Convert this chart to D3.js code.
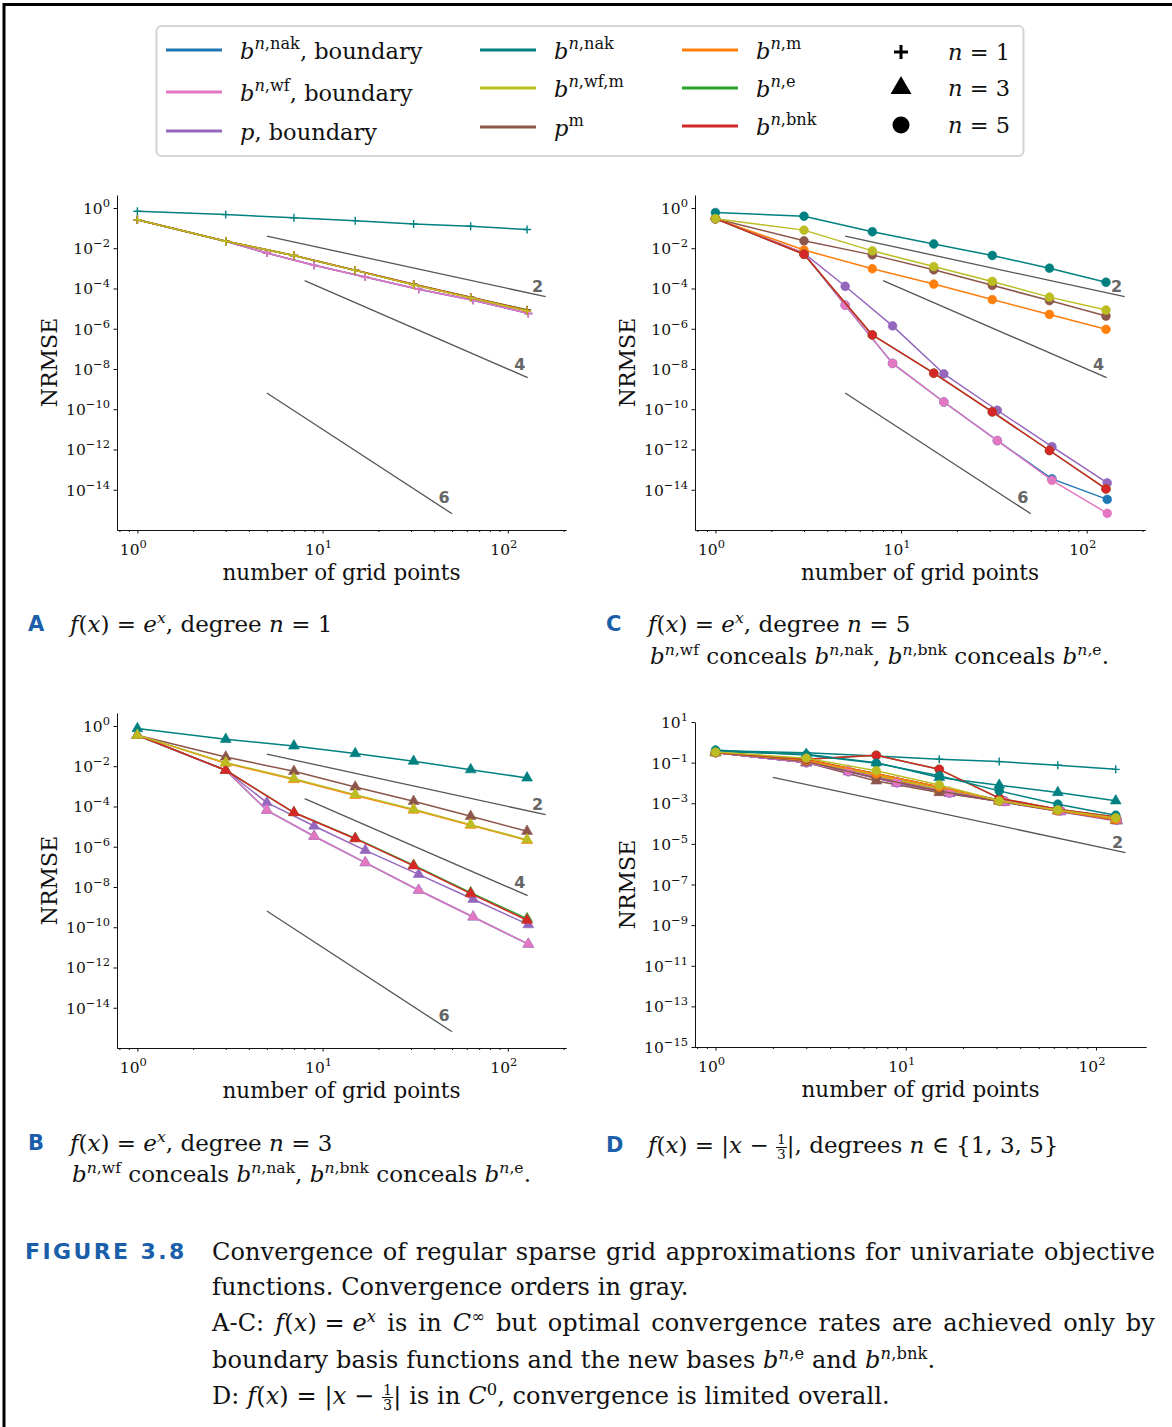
<!DOCTYPE html>
<html>
<head>
<meta charset="utf-8">
<title>Convergence of regular sparse grid approximations</title>
<style>
  body { margin: 0; background: #fff; }
  #wrap { position: relative; width: 1172px; height: 1427px; overflow: hidden; }
  #fig { position: absolute; left: 0; top: 0; }
  .cap { position: absolute; font-family: "DejaVu Serif", serif; font-size: 23px; line-height: 30px; height: 30px; white-space: nowrap; color: #111; }
  .body { font-size: 24px; letter-spacing: 0.1px; }
  .lab { position: absolute; font-family: "DejaVu Sans", sans-serif; font-weight: bold; font-size: 21px; line-height: 30px; color: #1b5ea9; }
  .fig { letter-spacing: 2.4px; font-size: 22px; }
  .just { width: 943px; text-align: justify; text-align-last: justify; }
  .m { display: inline-block; }
  sup { font-size: 0.68em; line-height: 0; vertical-align: 0.55em; }
  .frac { display: inline-block; vertical-align: -0.42em; font-size: 0.6em; line-height: 1.0; text-align: center; }
  .frac span { display: block; padding: 0 1px; }
  .frac .num { border-bottom: 1px solid #111; }
</style>
</head>
<body>
<div id="wrap">
  <svg id="fig"></svg>

  <div class="lab" style="left:28px;top:609px">A</div>
  <div class="cap" style="left:70px;top:609px"><i>f</i>(<i>x</i>) = <i>e</i><sup><i>x</i></sup>, degree <i>n</i> = 1</div>

  <div class="lab" style="left:606px;top:609px">C</div>
  <div class="cap" style="left:648px;top:609px"><i>f</i>(<i>x</i>) = <i>e</i><sup><i>x</i></sup>, degree <i>n</i> = 5</div>
  <div class="cap" style="left:650px;top:641px"><i>b</i><sup><i>n</i>,wf</sup> conceals <i>b</i><sup><i>n</i>,nak</sup>, <i>b</i><sup><i>n</i>,bnk</sup> conceals <i>b</i><sup><i>n</i>,e</sup>.</div>

  <div class="lab" style="left:28px;top:1128px">B</div>
  <div class="cap" style="left:70px;top:1128px"><i>f</i>(<i>x</i>) = <i>e</i><sup><i>x</i></sup>, degree <i>n</i> = 3</div>
  <div class="cap" style="left:72px;top:1159px"><i>b</i><sup><i>n</i>,wf</sup> conceals <i>b</i><sup><i>n</i>,nak</sup>, <i>b</i><sup><i>n</i>,bnk</sup> conceals <i>b</i><sup><i>n</i>,e</sup>.</div>

  <div class="lab" style="left:606px;top:1130px">D</div>
  <div class="cap" style="left:648px;top:1130px"><i>f</i>(<i>x</i>) = |<i>x</i> − <span class="frac"><span class="num">1</span><span>3</span></span>|, degrees <i>n</i> ∈ {1, 3, 5}</div>

  <div class="lab fig" style="left:25px;top:1237px">FIGURE 3.8</div>
  <div class="cap body just" style="left:212px;top:1237px">Convergence of regular sparse grid approximations for univariate objective</div>
  <div class="cap body" style="left:212px;top:1272px">functions. Convergence orders in gray.</div>
  <div class="cap body just" style="left:212px;top:1308px">A-C: <span class="m"><i>f</i>(<i>x</i>) = <i>e</i><sup><i>x</i></sup></span> is in <i>C</i><sup>∞</sup> but optimal convergence rates are achieved only by</div>
  <div class="cap body" style="left:212px;top:1345px">boundary basis functions and the new bases <i>b</i><sup><i>n</i>,e</sup> and <i>b</i><sup><i>n</i>,bnk</sup>.</div>
  <div class="cap body" style="left:212px;top:1381px">D: <i>f</i>(<i>x</i>) = |<i>x</i> − <span class="frac"><span class="num">1</span><span>3</span></span>| is in <i>C</i><sup>0</sup>, convergence is limited overall.</div>
</div>

<script src="https://cdn.jsdelivr.net/npm/d3@7"></script>
<script>
// grid sizes: interior grids and grids with boundary points
const xInner = [1, 3, 7, 15, 31, 63, 127];
const xBound = [1, 3, 5, 9, 17, 33, 65, 129];

// series, in legend order
const seriesKeys = ["nakB", "wfB", "pB", "nak", "wfm", "pm", "m", "e", "bnk"];
const seriesColors = ["#1f77b4", "#e377c2", "#9467bd", "#008080", "#bcbd22", "#8c564b", "#ff7f0e", "#2ca02c", "#d62728"];
const boundaryKeys = ["nakB", "wfB", "pB"];
const drawOrder = ["nakB", "pB", "wfB", "pm", "m", "e", "bnk", "nak", "wfm"];

// log10(NRMSE)
const errA = { // n = 1
  nakB: [-0.58, -1.65, -2.24, -2.85, -3.43, -4.04, -4.58, -5.24],
  wfB:  [-0.58, -1.65, -2.24, -2.85, -3.43, -4.04, -4.58, -5.24],
  pB:   [-0.58, -1.65, -2.24, -2.85, -3.43, -4.04, -4.58, -5.24],
  nak:  [-0.16, -0.33, -0.49, -0.63, -0.79, -0.91, -1.07],
  wfm:  [-0.58, -1.65, -2.36, -3.10, -3.81, -4.46, -5.11],
  pm:   [-0.58, -1.65, -2.36, -3.10, -3.81, -4.46, -5.11],
  m:    [-0.58, -1.65, -2.36, -3.10, -3.81, -4.46, -5.11],
  e:    [-0.58, -1.65, -2.36, -3.09, -3.79, -4.43, -5.06],
  bnk:  [-0.58, -1.65, -2.36, -3.09, -3.79, -4.44, -5.08]
};
const errB = { // n = 3
  nakB: [-0.46, -2.20, -4.19, -5.48, -6.79, -8.16, -9.49, -10.84],
  wfB:  [-0.46, -2.20, -4.19, -5.48, -6.79, -8.16, -9.49, -10.84],
  pB:   [-0.46, -2.20, -3.81, -4.97, -6.18, -7.37, -8.61, -9.87],
  nak:  [-0.13, -0.66, -0.99, -1.37, -1.75, -2.17, -2.58],
  wfm:  [-0.46, -1.82, -2.62, -3.41, -4.14, -4.90, -5.65],
  pm:   [-0.46, -1.54, -2.25, -3.03, -3.74, -4.49, -5.23],
  m:    [-0.46, -1.85, -2.66, -3.45, -4.18, -4.93, -5.68],
  e:    [-0.46, -2.20, -4.30, -5.58, -6.92, -8.28, -9.57],
  bnk:  [-0.46, -2.20, -4.30, -5.60, -6.95, -8.33, -9.65]
};
const errC = { // n = 5
  nakB: [-0.53, -2.25, -4.83, -7.72, -9.64, -11.56, -13.46, -14.48],
  wfB:  [-0.53, -2.25, -4.83, -7.72, -9.64, -11.56, -13.53, -15.17],
  pB:   [-0.53, -2.25, -3.89, -5.86, -8.24, -10.05, -11.86, -13.66],
  nak:  [-0.23, -0.41, -1.18, -1.79, -2.36, -2.99, -3.69],
  wfm:  [-0.53, -1.10, -2.13, -2.91, -3.65, -4.43, -5.07],
  pm:   [-0.53, -1.63, -2.33, -3.07, -3.84, -4.60, -5.37],
  m:    [-0.53, -2.09, -3.02, -3.78, -4.55, -5.29, -6.03],
  e:    [-0.53, -2.30, -6.31, -8.21, -10.13, -12.05, -13.96],
  bnk:  [-0.53, -2.30, -6.31, -8.21, -10.13, -12.05, -13.96]
};
// panel D, f(x) = |x - 1/3|
const errD1 = {
  nakB: [-0.50, -0.98, -1.42, -1.95, -2.45, -2.90, -3.38, -3.83],
  wfB:  [-0.50, -0.98, -1.42, -1.95, -2.45, -2.90, -3.38, -3.83],
  pB:   [-0.50, -0.98, -1.42, -1.95, -2.45, -2.90, -3.38, -3.83],
  nak:  [-0.42, -0.51, -0.67, -0.83, -0.95, -1.13, -1.33],
  wfm:  [-0.50, -0.95, -1.70, -2.30, -2.85, -3.36, -3.80],
  pm:   [-0.50, -0.95, -1.70, -2.30, -2.85, -3.36, -3.80],
  m:    [-0.50, -0.95, -1.70, -2.30, -2.85, -3.36, -3.80],
  e:    [-0.50, -0.95, -1.70, -2.30, -2.85, -3.36, -3.80],
  bnk:  [-0.50, -0.95, -1.70, -2.30, -2.85, -3.36, -3.80]
};
const errD3 = {
  nakB: [-0.50, -1.00, -1.42, -2.00, -2.50, -2.95, -3.40, -3.85],
  wfB:  [-0.50, -1.00, -1.42, -2.00, -2.50, -2.95, -3.40, -3.85],
  pB:   [-0.50, -1.00, -1.45, -2.00, -2.52, -2.95, -3.42, -3.87],
  nak:  [-0.45, -0.59, -1.00, -1.73, -2.11, -2.47, -2.88],
  wfm:  [-0.50, -0.90, -1.60, -2.30, -2.85, -3.35, -3.80],
  pm:   [-0.50, -1.00, -1.90, -2.47, -2.90, -3.37, -3.82],
  m:    [-0.50, -0.92, -1.65, -2.35, -2.88, -3.37, -3.83],
  e:    [-0.50, -0.85, -1.55, -2.20, -2.85, -3.36, -3.82],
  bnk:  [-0.50, -0.85, -1.55, -2.20, -2.85, -3.36, -3.82]
};
const errD5 = {
  nakB: [-0.50, -1.00, -1.41, -1.95, -2.47, -2.88, -3.35, -3.80],
  wfB:  [-0.50, -1.00, -1.41, -1.95, -2.47, -2.88, -3.35, -3.80],
  pB:   [-0.50, -1.00, -1.45, -2.00, -2.50, -2.92, -3.38, -3.83],
  nak:  [-0.38, -0.62, -1.03, -1.65, -2.39, -3.05, -3.59],
  wfm:  [-0.48, -0.78, -1.40, -2.10, -2.88, -3.33, -3.72],
  pm:   [-0.50, -0.95, -1.75, -2.40, -2.90, -3.36, -3.80],
  m:    [-0.50, -0.88, -1.55, -2.20, -2.87, -3.36, -3.80],
  e:    [-0.50, -0.83, -0.64, -1.33, -2.75, -3.30, -3.68],
  bnk:  [-0.50, -0.83, -0.64, -1.33, -2.75, -3.30, -3.68]
};

// reference convergence orders: c * N^-k between N = from and N = to
const guidesABC = [
  { k: 2, c: 1, from: 5, to: 160 },
  { k: 4, c: 1, from: 8, to: 128 },
  { k: 6, c: 1e-5, from: 5, to: 50 }
];
const guidesD = [{ k: 2, c: 0.076, from: 2, to: 143 }];

const yTicksABC = [0, -2, -4, -6, -8, -10, -12, -14];
const yTicksD = [1, -1, -3, -5, -7, -9, -11, -13, -15];

const serif = "DejaVu Serif, serif";
const sans = "DejaVu Sans, sans-serif";

var svg = d3.select("#fig").attr("width", 1172).attr("height", 1427);

// frame (top and left rule)
svg.append("path")
    .attr("d", "M4,1427V4.5H1172")
    .attr("fill", "none")
    .attr("stroke", "#000")
    .attr("stroke-width", 3);

// text with italic parts and superscripts
// style: r = roman, i = italic, sr = sup roman, si = sup italic
function mathText(sel, parts, size, supShift, supScale) {
    supScale = supScale || 0.7;
    var t = sel.append("text").attr("font-family", serif).attr("font-size", size).attr("fill", "#111");
    var up = false;
    parts.forEach(function (p) {
        var isSup = p[1][0] === "s";
        var ts = t.append("tspan").text(p[0]);
        if (isSup && !up) { ts.attr("dy", -supShift); up = true; }
        if (!isSup && up) { ts.attr("dy", supShift); up = false; }
        ts.attr("font-size", isSup ? size * supScale : size);
        if (p[1].slice(-1) === "i") ts.attr("font-style", "italic");
    });
    return t;
}

function markerPath(kind, s) {
    if (kind === "plus") return "M" + (-s) + ",0H" + s + "M0," + (-s) + "V" + s;
    if (kind === "tri") return d3.symbol(d3.symbolTriangle, s * s * 1.9)();
    return d3.symbol(d3.symbolCircle, Math.PI * s * s)();
}

function drawMarkers(g, pts, kind, color) {
    var m = g.selectAll(null).data(pts).enter().append("path")
        .attr("transform", function (d) { return "translate(" + d[0] + "," + d[1] + ")"; })
        .attr("d", markerPath(kind, kind === "plus" ? 4 : (kind === "tri" ? 5.2 : 4.4)));
    if (kind === "plus") m.attr("fill", "none").attr("stroke", color).attr("stroke-width", 1.4);
    else m.attr("fill", color).attr("stroke", color).attr("stroke-width", 0.6);
}

function drawPanel(p) {
    var x = d3.scaleLog().domain(p.xDom).range([p.left, p.right]);
    var y = d3.scaleLog().domain(p.yDom).range([p.bottom, p.top]);
    var g = svg.append("g");

    // axes
    var minor = [];
    [0.1, 1, 10, 100].forEach(function (b) {
        for (var i = 2; i <= 9; i++) {
            var v = b * i;
            if (v >= p.xDom[0] && v <= p.xDom[1]) minor.push(v);
        }
    });
    g.append("g").attr("transform", "translate(0," + p.bottom + ")")
        .call(d3.axisBottom(x).tickValues(minor).tickSize(2).tickSizeOuter(0).tickFormat(""));
    g.append("g").attr("transform", "translate(0," + p.bottom + ")")
        .call(d3.axisBottom(x).tickValues([1, 10, 100]).tickSize(3.5).tickSizeOuter(0).tickFormat(""));
    g.append("g").attr("transform", "translate(" + p.left + ",0)")
        .call(d3.axisLeft(y).tickValues(p.yTicks.map(function (e) { return Math.pow(10, e); }))
            .tickSize(3.5).tickSizeOuter(0).tickFormat(""));
    g.selectAll(".domain, .tick line").attr("stroke", "#111").attr("stroke-width", 1);

    // tick labels
    [0, 1, 2].forEach(function (e) {
        var t = mathText(g, [["10", "r"], [String(e), "sr"]], 15.5, 7, 0.74);
        t.attr("x", x(Math.pow(10, e)) - 4).attr("y", p.bottom + 25).attr("text-anchor", "middle");
    });
    p.yTicks.forEach(function (e) {
        var lab = e < 0 ? "\u2212" + (-e) : String(e);
        var t = mathText(g, [["10", "r"], [lab, "sr"]], 15.5, 7, 0.74);
        t.attr("x", p.left - 7).attr("y", y(Math.pow(10, e)) + 6).attr("text-anchor", "end");
    });

    // axis titles
    g.append("text").attr("font-family", serif).attr("font-size", 21.5).attr("fill", "#111")
        .attr("text-anchor", "middle")
        .attr("x", (p.left + p.right) / 2).attr("y", p.bottom + 50)
        .text("number of grid points");
    g.append("text").attr("font-family", serif).attr("font-size", 22).attr("fill", "#111")
        .attr("text-anchor", "middle")
        .attr("transform", "translate(" + (p.left - 60) + "," + ((p.top + p.bottom) / 2) + ") rotate(-90)")
        .text("NRMSE");

    // convergence order guides
    p.guides.forEach(function (q) {
        var ends = [q.from, q.to].map(function (n) { return [x(n), y(q.c * Math.pow(n, -q.k))]; });
        g.append("path").attr("d", d3.line()(ends))
            .attr("stroke", "#555").attr("stroke-width", 1.3).attr("fill", "none");
        g.append("text").attr("font-family", sans).attr("font-weight", "bold").attr("font-size", 16)
            .attr("fill", "#666").attr("text-anchor", "middle")
            .attr("x", ends[1][0] - 8).attr("y", ends[1][1] - 2 - 1.5 * q.k)
            .text(q.k);
    });

    // data
    var line = d3.line()
        .x(function (d) { return x(d[0]); })
        .y(function (d) { return y(Math.pow(10, d[1])); });
    p.sets.forEach(function (s) {
        drawOrder.forEach(function (key) {
            var xs = boundaryKeys.indexOf(key) >= 0 ? xBound : xInner;
            var pts = xs.map(function (n, i) { return [n, s.err[key][i]]; });
            var color = seriesColors[seriesKeys.indexOf(key)];
            g.append("path").attr("d", line(pts))
                .attr("fill", "none").attr("stroke", color).attr("stroke-width", 1.5)
                .attr("stroke-linejoin", "round");
            drawMarkers(g, pts.map(function (d) { return [x(d[0]), y(Math.pow(10, d[1]))]; }), s.marker, color);
        });
    });
}

var xDomABC = [Math.pow(10, -0.11), Math.pow(10, 2.314)];
var yDomABC = [1e-16, Math.pow(10, 0.645)];
drawPanel({ left: 117, right: 566, top: 195, bottom: 530, xDom: xDomABC, yDom: yDomABC,
    yTicks: yTicksABC, guides: guidesABC, sets: [{ err: errA, marker: "plus" }] });
drawPanel({ left: 695, right: 1145, top: 195, bottom: 530, xDom: xDomABC, yDom: yDomABC,
    yTicks: yTicksABC, guides: guidesABC, sets: [{ err: errC, marker: "dot" }] });
drawPanel({ left: 117, right: 566, top: 713, bottom: 1048, xDom: xDomABC, yDom: yDomABC,
    yTicks: yTicksABC, guides: guidesABC, sets: [{ err: errB, marker: "tri" }] });
drawPanel({ left: 695, right: 1146, top: 722, bottom: 1047,
    xDom: [Math.pow(10, -0.108), Math.pow(10, 2.263)], yDom: [1e-15, 10],
    yTicks: yTicksD, guides: guidesD,
    sets: [{ err: errD1, marker: "plus" }, { err: errD3, marker: "tri" }, { err: errD5, marker: "dot" }] });

// Legend
var lg = svg.append("g");
lg.append("rect").attr("x", 156.5).attr("y", 26).attr("width", 867).attr("height", 130).attr("rx", 5)
    .attr("fill", "#fff").attr("stroke", "#d4d4d4").attr("stroke-width", 2);

var legendLabels = [
    [["b", "i"], ["n", "si"], [",nak", "sr"], [", boundary", "r"]],
    [["b", "i"], ["n", "si"], [",wf", "sr"], [", boundary", "r"]],
    [["p", "i"], [", boundary", "r"]],
    [["b", "i"], ["n", "si"], [",nak", "sr"]],
    [["b", "i"], ["n", "si"], [",wf,m", "sr"]],
    [["p", "i"], ["m", "sr"]],
    [["b", "i"], ["n", "si"], [",m", "sr"]],
    [["b", "i"], ["n", "si"], [",e", "sr"]],
    [["b", "i"], ["n", "si"], [",bnk", "sr"]]
];
var legendColX = [166, 480, 682];
var legendRowY = [[50, 92, 131], [50, 88, 127], [50, 88, 126]];
seriesKeys.forEach(function (key, i) {
    var c = Math.floor(i / 3), r = i % 3;
    var lx = legendColX[c], ly = legendRowY[c][r];
    lg.append("line").attr("x1", lx).attr("x2", lx + 56).attr("y1", ly).attr("y2", ly)
        .attr("stroke", seriesColors[i]).attr("stroke-width", 3);
    mathText(lg, legendLabels[i], 22.5, 10, 0.72).attr("x", lx + 74).attr("y", ly + 9);
});
var degreeLabels = ["1", "3", "5"];
var degreeMarkers = ["plus", "tri", "dot"];
var degreeY = [52, 88, 125];
degreeLabels.forEach(function (d, i) {
    var m = lg.append("path").attr("transform", "translate(901," + degreeY[i] + ")");
    if (degreeMarkers[i] === "plus") {
        m.attr("d", markerPath("plus", 7)).attr("stroke", "#000").attr("stroke-width", 3).attr("fill", "none");
    } else {
        m.attr("d", markerPath(degreeMarkers[i], degreeMarkers[i] === "tri" ? 10 : 8.5)).attr("fill", "#000");
    }
    mathText(lg, [["n", "i"], [" = " + d, "r"]], 22.5, 10).attr("x", 948).attr("y", degreeY[i] + 8);
});
</script>
</body>
</html>
